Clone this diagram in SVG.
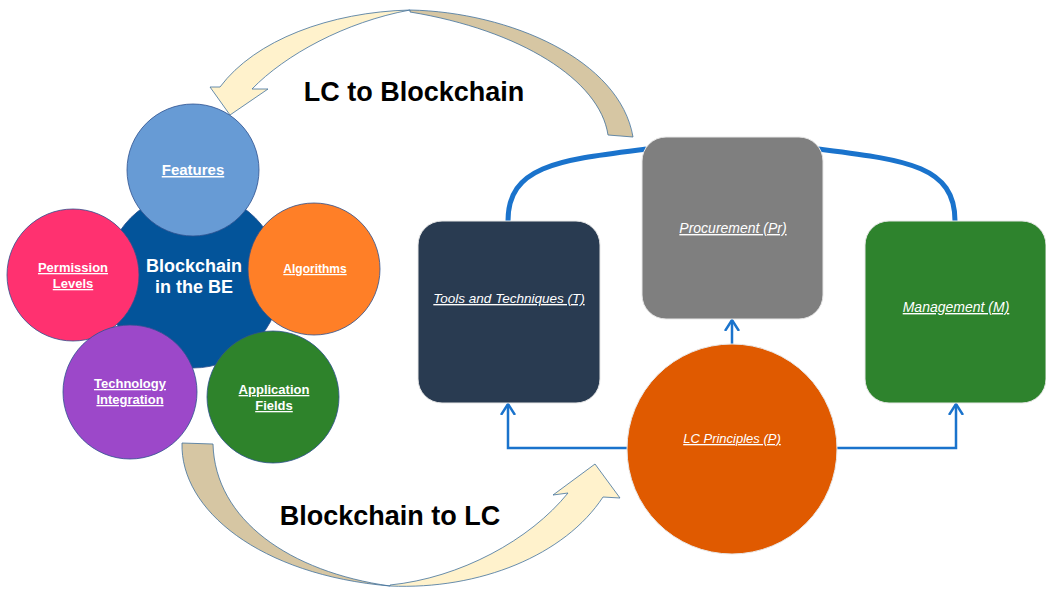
<svg xmlns="http://www.w3.org/2000/svg" width="1046" height="590" viewBox="0 0 1046 590">
<defs>
<style>
.lbl{font-family:"Liberation Sans",Arial,sans-serif;font-weight:bold;fill:#fff;text-anchor:middle;text-decoration:underline}
.big{font-family:"Liberation Sans",Arial,sans-serif;font-weight:bold;fill:#000;font-size:27px;text-anchor:middle}
.ttl{font-family:"Liberation Sans",Arial,sans-serif;font-weight:bold;fill:#fff;font-size:18px;text-anchor:middle}
.it{font-family:"Liberation Sans",Arial,sans-serif;font-style:italic;fill:#fff;text-anchor:middle;text-decoration:underline}
.cir{stroke:#2F528F;stroke-width:0.8}
.box{stroke:#E8E8E8;stroke-width:1}
.conn{fill:none;stroke:#1A73CC;stroke-width:2.5}
.thick{fill:none;stroke:#1A73CC;stroke-width:5}
.front{fill:#FFF2CC;stroke:#41719C;stroke-width:0.8}
.back{fill:#D6C6A3;stroke:#41719C;stroke-width:0.8}
</style>
<marker id="arr" markerUnits="userSpaceOnUse" viewBox="0 0 12 16" refX="11" refY="8" markerWidth="12" markerHeight="16" orient="auto">
<path d="M0,1 L11,8 L0,15" fill="none" stroke="#1A73CC" stroke-width="2.5"/>
</marker>
</defs>
<rect width="1046" height="590" fill="#fff"/>

<g id="connectors">
<path class="back" d="M410,10 C510,12 620,60 633,137 L608,135 C600,80 520,30 410,12 Z"/>
<path class="front" d="M220,87 C255,40 330,12 410,10 C345,22 285,55 252,89 L268,89 L230,115 L210,87 Z"/>
<path class="back" d="M182,443 C180,510 260,575 390,586 C290,572 215,520 213,444 Z"/>
<path class="front" d="M390,586 C480,590 565,555 603,497 L620,498 L595,464 L553,495 L568,493 C530,540 460,578 390,585 Z"/>
<path class="thick" d="M508,221 C508,165 560,160 646,149"/>
<path class="thick" d="M955,221 C955,165 905,160 818,149"/>
<path class="conn" d="M627,448 L508,448 L508,404" marker-end="url(#arr)"/>
<path class="conn" d="M837,448 L956,448 L956,404" marker-end="url(#arr)"/>
<path class="conn" d="M732,344 L732,320" marker-end="url(#arr)"/>
</g>

<text class="big" x="414" y="101">LC to Blockchain</text>
<text class="big" x="390" y="525">Blockchain to LC</text>

<g id="blockchain">
<circle class="cir" cx="193" cy="280" r="88" fill="#03549A"/>
<text class="ttl" x="194" y="272">Blockchain</text>
<text class="ttl" x="194" y="293">in the BE</text>
</g>
<g id="features">
<circle class="cir" cx="193" cy="170" r="66" fill="#679BD5"/>
<text class="lbl" x="193" y="175" font-size="15">Features</text>
</g>
<g id="permission">
<circle class="cir" cx="73" cy="275" r="66" fill="#FF3170"/>
<text class="lbl" x="73" y="272" font-size="13">Permission</text>
<text class="lbl" x="73" y="288" font-size="13">Levels</text>
</g>
<g id="algorithms">
<circle class="cir" cx="314" cy="269" r="66" fill="#FF7F27"/>
<text class="lbl" x="315" y="273" font-size="12">Algorithms</text>
</g>
<g id="technology">
<circle class="cir" cx="130" cy="392" r="67" fill="#9C48C9"/>
<text class="lbl" x="130" y="388" font-size="13">Technology</text>
<text class="lbl" x="130" y="404" font-size="13">Integration</text>
</g>
<g id="application">
<circle class="cir" cx="273" cy="397" r="66" fill="#2E832B"/>
<text class="lbl" x="274" y="394" font-size="13">Application</text>
<text class="lbl" x="274" y="410" font-size="13">Fields</text>
</g>

<g id="tools">
<rect class="box" x="418" y="221" width="182" height="182" rx="24" fill="#293B51"/>
<text class="it" x="509" y="303" font-size="13.5">Tools and Techniques (T)</text>
</g>
<g id="procurement">
<rect class="box" x="642" y="137" width="181" height="182" rx="24" fill="#7F7F7F"/>
<text class="it" x="733" y="233" font-size="14">Procurement (Pr)</text>
</g>
<g id="management">
<rect class="box" x="865" y="221" width="181" height="182" rx="24" fill="#2E832D"/>
<text class="it" x="956" y="312" font-size="14">Management (M)</text>
</g>
<g id="principles">
<circle class="box" cx="732" cy="449" r="105" fill="#E05A00"/>
<text class="it" x="732" y="443" font-size="13">LC Principles (P)</text>
</g>
</svg>
